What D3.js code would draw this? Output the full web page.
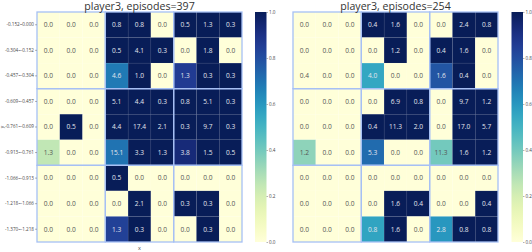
<!DOCTYPE html>
<html>
<head>
<meta charset="utf-8">
<script src="https://cdn.jsdelivr.net/npm/d3@7"></script>
<style>
  body { margin: 0; background: #fff; }
  text { font-family: "Open Sans", sans-serif; }
</style>
</head>
<body>
<div id="vis"></div>
<script>
// row labels (bins on y), top to bottom
const Y_LABELS = ["-0.152~0.000", "-0.304~-0.152", "-0.457~-0.304", "-0.609~-0.457",
                  "-0.761~-0.609", "-0.913~-0.761", "-1.066~-0.913", "-1.218~-1.066", "-1.370~-1.218"];
const COLS = [0, 1, 2, 3, 4, 5, 6, 7, 8];
const CBAR_TICKS = [0.0, 0.2, 0.4, 0.6, 0.8, 1.0];

// left: annotated numbers
const LEFT_COUNTS = [
  [0.0, 0.0, 0.0, 0.8, 0.8, 0.0, 0.5, 1.3, 0.3],
  [0.0, 0.0, 0.0, 0.5, 4.1, 0.3, 0.0, 1.8, 0.0],
  [0.0, 0.0, 0.0, 4.6, 1.0, 0.0, 1.3, 0.3, 0.3],
  [0.0, 0.0, 0.0, 5.1, 4.4, 0.3, 0.8, 5.1, 0.3],
  [0.0, 0.5, 0.0, 4.4, 17.4, 2.1, 0.3, 9.7, 0.3],
  [1.3, 0.0, 0.0, 15.1, 3.3, 1.3, 3.8, 1.5, 0.5],
  [0.0, 0.0, 0.0, 0.5, 0.0, 0.0, 0.0, 0.0, 0.0],
  [0.0, 0.0, 0.0, 0.0, 2.1, 0.0, 0.3, 0.3, 0.0],
  [0.0, 0.0, 0.0, 1.3, 0.3, 0.0, 0.0, 0.3, 0.0]
];
// left: colour values (0..1)
const LEFT_SHADES = [
  [0, 0, 0, 1, 1, 0, 1, 1, 1],
  [0, 0, 0, 1, 1, 1, 0, 1, 0],
  [0, 0, 0, 0.68, 1, 0, 0.86, 1, 1],
  [0, 0, 0, 1, 1, 1, 1, 1, 1],
  [0, 1, 0, 1, 1, 1, 1, 1, 1],
  [0.25, 0, 0, 0.7, 1, 1, 0.93, 1, 1],
  [0, 0, 0, 1, 0, 0, 0, 0, 0],
  [0, 0, 0, 0, 1, 0, 1, 1, 0],
  [0, 0, 0, 0.84, 1, 0, 0, 1, 0]
];

// right: annotated numbers
const RIGHT_COUNTS = [
  [0.0, 0.0, 0.0, 0.4, 1.6, 0.0, 0.0, 2.4, 0.8],
  [0.0, 0.0, 0.0, 0.0, 1.2, 0.0, 0.4, 1.6, 0.0],
  [0.4, 0.0, 0.0, 4.0, 0.0, 0.0, 1.6, 0.4, 0.0],
  [0.0, 0.0, 0.0, 0.0, 6.9, 0.8, 0.0, 9.7, 1.2],
  [0.0, 0.0, 0.0, 0.4, 11.3, 2.0, 0.0, 17.0, 5.7],
  [1.2, 0.0, 0.0, 5.3, 0.0, 0.0, 11.3, 1.6, 1.2],
  [0.0, 0.0, 0.0, 0.0, 0.0, 0.0, 0.0, 0.0, 0.0],
  [0.0, 0.0, 0.0, 0.0, 1.6, 0.4, 0.0, 0.0, 0.4],
  [0.0, 0.0, 0.0, 0.8, 1.6, 0.0, 2.8, 0.8, 0.8]
];
// right: colour values (0..1)
const RIGHT_SHADES = [
  [0, 0, 0, 1, 1, 0, 0, 1, 1],
  [0, 0, 0, 0, 1, 0, 1, 1, 0],
  [0, 0, 0, 0.55, 0, 0, 0.78, 1, 0],
  [0, 0, 0, 0, 1, 1, 0, 1, 1],
  [0, 0, 0, 1, 1, 1, 0, 1, 1],
  [0.35, 0, 0, 0.72, 0, 0, 0.4, 1, 1],
  [0, 0, 0, 0, 0, 0, 0, 0, 0],
  [0, 0, 0, 0, 1, 1, 0, 0, 1],
  [0, 0, 0, 0.56, 1, 0, 0.6, 1, 1]
];

const FRAME_WIDTH = 532;
const FRAME_HEIGHT = 252;
const GRID_TOP = 12;
const GRID_BOTTOM = 242;
const GRID_W = 205;

const FRAME = d3.select("#vis")
  .append("svg")
    .attr("width", FRAME_WIDTH)
    .attr("height", FRAME_HEIGHT);

const COLOR = d3.scaleSequential(d3.interpolateYlGnBu).domain([0, 1]);

const defs = FRAME.append("defs");
const grad = defs.append("linearGradient")
    .attr("id", "cbar")
    .attr("x1", 0).attr("y1", 1).attr("x2", 0).attr("y2", 0);
d3.range(0, 1.001, 0.05).forEach((t) => {
  grad.append("stop").attr("offset", t).attr("stop-color", COLOR(t));
});

function drawPanel(left, counts, shades, title, cbarX, showY) {
  const X = d3.scaleBand().domain(COLS).range([left, left + GRID_W]);
  const Y = d3.scaleBand().domain(Y_LABELS).range([GRID_TOP, GRID_BOTTOM]);

  const g = FRAME.append("g");

  const cells = [];
  Y_LABELS.forEach((lab, r) => {
    COLS.forEach((c) => {
      cells.push({row: lab, col: c, v: counts[r][c], s: shades[r][c]});
    });
  });

  g.selectAll("rect.cell")
    .data(cells)
    .enter()
    .append("rect")
      .attr("class", "cell")
      .attr("x", (d) => X(d.col))
      .attr("y", (d) => Y(d.row))
      .attr("width", X.bandwidth())
      .attr("height", Y.bandwidth())
      .attr("fill", (d) => COLOR(d.s))
      .attr("stroke", "rgba(255,255,255,0.07)")
      .attr("stroke-width", 0.6);

  g.selectAll("text.val")
    .data(cells)
    .enter()
    .append("text")
      .attr("class", "val")
      .attr("x", (d) => X(d.col) + X.bandwidth() / 2)
      .attr("y", (d) => Y(d.row) + Y.bandwidth() / 2)
      .attr("dy", "0.35em")
      .attr("text-anchor", "middle")
      .attr("font-size", "6.6px")
      .attr("fill", (d) => d.s > 0.45 ? "#e4e6ee" : "#555")
      .text((d) => d.v.toFixed(1));

  // 3x3 block outlines
  const blocks = [];
  [0, 3, 6].forEach((r) => [0, 3, 6].forEach((c) => blocks.push({r: r, c: c})));
  g.selectAll("rect.block")
    .data(blocks)
    .enter()
    .append("rect")
      .attr("class", "block")
      .attr("x", (d) => X(d.c))
      .attr("y", (d) => Y(Y_LABELS[d.r]))
      .attr("width", X.bandwidth() * 3)
      .attr("height", Y.bandwidth() * 3)
      .attr("fill", "none")
      .attr("stroke", "#a6c0f4")
      .attr("stroke-width", 1.3);

  // title
  FRAME.append("text")
    .attr("x", left + GRID_W / 2)
    .attr("y", 10)
    .attr("text-anchor", "middle")
    .attr("font-size", "10.6px")
    .attr("fill", "#333")
    .text(title);

  if (showY) {
    const ax = FRAME.append("g")
      .attr("transform", "translate(" + left + ",0)")
      .call(d3.axisLeft(Y).tickSize(2).tickPadding(1));
    ax.select(".domain").remove();
    ax.selectAll("text").attr("font-size", "4.6px").attr("fill", "#444")
      .style("font-family", "Open Sans, sans-serif");
    ax.selectAll("line").attr("stroke", "#666").attr("stroke-width", 0.5);

    FRAME.append("text")
      .attr("transform", "translate(4," + ((GRID_TOP + GRID_BOTTOM) / 2) + ") rotate(-90)")
      .attr("text-anchor", "middle")
      .attr("font-size", "5px")
      .attr("fill", "#444")
      .text("y");

    FRAME.append("text")
      .attr("x", left + GRID_W / 2)
      .attr("y", 250)
      .attr("text-anchor", "middle")
      .attr("font-size", "5.5px")
      .attr("fill", "#444")
      .text("x");
  }

  // colorbar
  const CB = d3.scaleLinear().domain([0, 1]).range([GRID_BOTTOM, GRID_TOP]);
  FRAME.append("rect")
    .attr("x", cbarX)
    .attr("y", GRID_TOP)
    .attr("width", 11.5)
    .attr("height", GRID_BOTTOM - GRID_TOP)
    .attr("fill", "url(#cbar)");
  const cax = FRAME.append("g")
    .attr("transform", "translate(" + (cbarX + 11.5) + ",0)")
    .call(d3.axisRight(CB).tickValues(CBAR_TICKS).tickFormat(d3.format(".1f")).tickSize(1.5).tickPadding(1));
  cax.select(".domain").remove();
  cax.selectAll("text").attr("font-size", "4.6px").attr("fill", "#444")
    .style("font-family", "Open Sans, sans-serif");
  cax.selectAll("line").attr("stroke", "#666").attr("stroke-width", 0.5);
}

drawPanel(37, LEFT_COUNTS, LEFT_SHADES, "player3, episodes=397", 255, true);
drawPanel(293, RIGHT_COUNTS, RIGHT_SHADES, "player3, episodes=254", 511.5, false);
</script>
</body>
</html>
